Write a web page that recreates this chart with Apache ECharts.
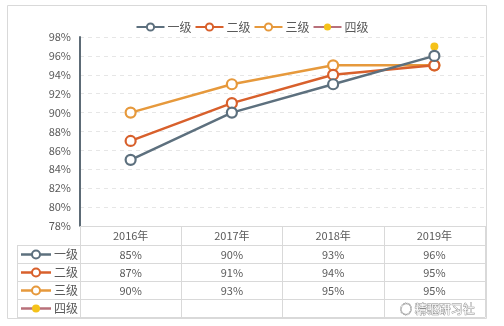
<!DOCTYPE html>
<html><head><meta charset="utf-8">
<script src="https://cdn.jsdelivr.net/npm/echarts@6/dist/echarts.min.js"></script>
<style>html,body{margin:0;padding:0;background:#fff}#c{width:504px;height:326px}</style>
</head><body><div id="c"></div>
<script>
var years = ['2016年','2017年','2018年','2019年'];
var names = ['一级','二级','三级','四级'];
var lv1 = [85, 90, 93, 96];
var lv2 = [87, 91, 94, 95];
var lv3 = [90, 93, 95, 95];
var lv4 = [null, null, null, 97];
var yTicks = {min: 78, max: 98, step: 2};
var colors = ['#5d707e', '#d8602c', '#e6993c', '#b8707a'];
var markerColors = ['#5d707e', '#d8602c', '#e6993c', '#f5c21a'];
var allData = [lv1, lv2, lv3, lv4];

var chart = echarts.init(document.getElementById('c'));
var FONT = '"Microsoft YaHei","Noto Sans CJK SC",sans-serif';
var textColor = '#595959';
var lineGray = '#d9d9d9';
var rowOffsets = [0, 19, 37, 55, 73, 91];
var gridBottomY = 226;

var xAxes = [];
for (var r = 0; r < 6; r++) {
  (function(r){
    var ax = {
      type: 'category', data: years, gridIndex: 0, position: 'bottom', offset: rowOffsets[r],
      boundaryGap: true,
      axisLine: {show: true, lineStyle: {color: lineGray, width: 1}},
      axisTick: {show: r < 5, length: r < 5 ? rowOffsets[r+1] - rowOffsets[r] : 0, inside: false, alignWithLabel: false, interval: 0, lineStyle: {color: lineGray}},
      axisLabel: {show: r < 5, interval: 0, color: textColor, fontSize: 11, fontFamily: FONT, margin: 4,
        formatter: function(v, i){
          if (r === 0) return v;
          var d = allData[r-1][i];
          return d == null ? '' : d + '%';
        }},
      splitLine: {show: false}
    };
    if (r === 4) ax.axisLabel.color = '#c8c8c8';
    xAxes.push(ax);
  })(r);
}

var series = names.map(function(n, i){
  return {
    name: n, type: 'line', xAxisIndex: 0, data: allData[i],
    symbol: 'circle', symbolSize: i === 3 ? 8 : 10,
    showSymbol: true,
    lineStyle: {color: colors[i], width: 2.5},
    itemStyle: {color: i === 3 ? markerColors[i] : '#ffffff', borderColor: markerColors[i], borderWidth: i === 3 ? 0 : 2.2},
    z: 3 + (3 - i)
  };
});

var graphics = [];
graphics.push({type: 'rect', shape: {x: 7.5, y: 5.5, width: 479, height: 313}, style: {fill: 'none', stroke: '#d9d9d9', lineWidth: 1}, silent: true, z: -1});
var rowLineYs = rowOffsets.slice(1).map(function(o){ return gridBottomY + o + 0.5; });
rowLineYs.forEach(function(y){
  graphics.push({type: 'line', shape: {x1: 17, y1: y, x2: 80, y2: y}, style: {stroke: lineGray, lineWidth: 1}, silent: true});
});
graphics.push({type: 'line', shape: {x1: 17.5, y1: rowLineYs[0], x2: 17.5, y2: rowLineYs[4]}, style: {stroke: lineGray, lineWidth: 1}, silent: true});
names.forEach(function(n, i){
  var cy = (rowLineYs[i] + rowLineYs[i+1]) / 2;
  graphics.push({type: 'line', shape: {x1: 21, y1: cy, x2: 51, y2: cy}, style: {stroke: colors[i], lineWidth: 2.5}, silent: true});
  graphics.push({type: 'circle', shape: {cx: 36, cy: cy, r: 4}, style: {fill: i === 3 ? markerColors[i] : '#fff', stroke: i === 3 ? null : markerColors[i], lineWidth: 2}, silent: true});
  graphics.push({type: 'text', style: {text: n, x: 54, y: cy, textVerticalAlign: 'middle', fill: textColor, fontSize: 12, fontFamily: FONT}, silent: true});
});
graphics.push({type: 'text', style: {text: '◌ 精驱研习社', x: 400, y: 309, textVerticalAlign: 'middle', fill: '#ffffff', stroke: '#8a8a8a', lineWidth: 0.8, fontSize: 12, fontFamily: FONT}, silent: true, z: 100});

chart.setOption({
  animation: false,
  color: colors,
  legend: {
    top: 16, left: 'center', itemWidth: 28, itemHeight: 9, itemGap: 3,
    textStyle: {color: textColor, fontSize: 12, fontFamily: FONT, padding: [0, 0, 0, -2]},
    data: names
  },
  grid: {left: 80, right: 19, top: 37, bottom: 100, containLabel: false},
  xAxis: xAxes,
  yAxis: {
    type: 'value', min: yTicks.min, max: yTicks.max, interval: yTicks.step,
    axisLine: {show: true, lineStyle: {color: '#5d6b76', width: 2}},
    axisTick: {show: false},
    axisLabel: {color: textColor, fontSize: 11, fontFamily: FONT, margin: 9, formatter: '{value}%'},
    splitLine: {show: true, lineStyle: {color: '#e6e6e6', type: [4, 4], width: 1}}
  },
  series: series,
  graphic: graphics
});
</script></body></html>
